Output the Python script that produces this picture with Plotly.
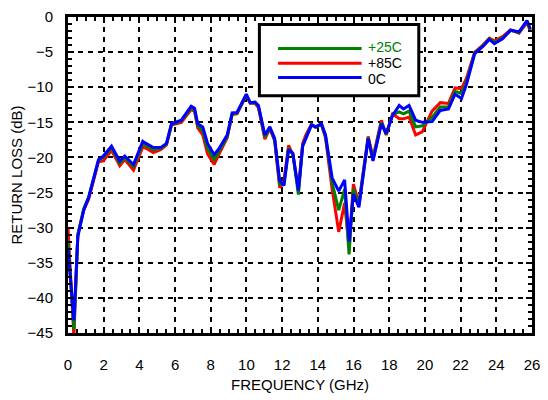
import plotly.graph_objects as go

# Frequency points (GHz)
freq = [0.00, 0.33, 0.55, 0.88, 1.16, 1.71, 1.98, 2.44, 2.90, 3.18, 3.67, 4.19, 4.37, 4.78,
        5.19, 5.52, 5.80, 6.35, 6.90, 7.09, 7.27, 7.55, 7.82, 8.19, 8.47, 8.92, 9.20, 9.47,
        9.99, 10.21, 10.48, 10.67, 11.03, 11.31, 11.58, 11.86, 12.10, 12.36, 12.60, 12.91,
        13.15, 13.33, 13.64, 13.88, 14.20, 14.43, 14.80, 15.17, 15.50, 15.75, 15.99, 16.30,
        16.82, 17.09, 17.56, 17.83, 18.19, 18.56, 18.80, 19.11, 19.48, 19.85, 20.40, 20.86,
        21.32, 21.69, 22.05, 22.33, 22.79, 23.25, 23.61, 23.89, 24.35, 24.80, 25.27, 25.72,
        25.90]

# Return loss (dB) at 0C
rl_0c = [-33.0, -43.2, -31.3, -27.5, -25.7, -20.3, -19.8, -18.4, -20.5, -19.8, -21.0, -17.7,
         -18.0, -18.6, -18.6, -18.0, -15.2, -14.7, -12.7, -13.0, -15.2, -15.65, -18.0, -19.6,
         -18.7, -16.8, -13.65, -13.6, -11.0, -12.2, -12.1, -12.6, -16.8, -15.65, -17.3, -23.3,
         -24.0, -18.9, -19.4, -24.7, -18.4, -17.3, -15.4, -15.65, -15.2, -16.8, -22.9, -24.8,
         -23.2, -32.0, -25.2, -27.1, -17.3, -20.5, -15.2, -16.6, -14.0, -12.6, -13.1, -12.6,
         -14.7, -15.0, -14.9, -13.3, -13.1, -11.0, -11.6, -9.6, -5.2, -4.2, -3.2, -3.8, -3.1,
         -1.9, -2.1, -0.5, -1.7]

# Return loss (dB) at +25C
rl_25c = [-32.0, -44.5, -31.0, -27.3, -25.6, -20.4, -20.0, -18.6, -20.8, -20.0, -21.3, -18.0,
          -18.3, -18.9, -18.7, -18.1, -15.3, -14.8, -12.9, -13.2, -15.5, -16.2, -18.7, -20.3,
          -19.1, -17.0, -13.8, -13.7, -11.1, -12.25, -12.2, -12.7, -17.1, -15.8, -17.5, -23.8,
          -23.7, -18.7, -19.5, -25.3, -18.3, -17.1, -15.3, -15.7, -15.3, -17.0, -23.6, -27.5,
          -24.5, -33.8, -24.5, -26.8, -17.2, -20.3, -15.0, -16.7, -13.9, -13.5, -13.8, -13.4,
          -15.65, -15.5, -14.3, -12.8, -12.8, -10.6, -10.9, -9.2, -5.1, -4.1, -3.1, -3.6, -3.0,
          -1.9, -2.2, -0.6, -1.8]

# Return loss (dB) at +85C
rl_85c = [-30.0, -45.5, -31.0, -27.5, -25.9, -20.6, -20.5, -19.0, -21.2, -20.3, -21.8, -18.5,
          -18.7, -19.3, -18.9, -18.2, -15.4, -15.0, -13.2, -13.4, -15.8, -16.8, -19.5, -21.0,
          -19.5, -17.2, -13.9, -13.8, -11.2, -12.3, -12.3, -12.9, -17.4, -15.9, -17.6, -24.3,
          -23.3, -18.3, -19.6, -24.6, -18.0, -16.8, -15.3, -15.7, -15.3, -17.2, -24.5, -30.6,
          -26.5, -32.8, -23.8, -26.5, -17.0, -20.0, -14.7, -16.8, -13.8, -14.5, -14.5, -14.25,
          -16.8, -16.35, -13.4, -12.2, -12.3, -10.1, -10.2, -8.7, -5.0, -4.0, -3.0, -3.4, -2.8,
          -1.8, -2.3, -0.8, -1.9]

x_ticks = list(range(0, 27, 2))
y_ticks = list(range(-45, 1, 5))

series = [
    ("+85C", rl_85c, "#ff0000"),
    ("+25C", rl_25c, "#008000"),
    ("0C", rl_0c, "#0000ff"),
]

fig = go.Figure()
for name, vals, color in series:
    fig.add_trace(go.Scatter(x=freq, y=vals, mode="lines", name=name,
                             line=dict(color=color, width=3), showlegend=False))

font_family = "Liberation Sans, Arial, sans-serif"

axis_common = dict(
    showline=True, linecolor="black", linewidth=3, mirror="allticks",
    ticks="inside", tickcolor="black", tickwidth=2, ticklen=6,
    showgrid=True, gridcolor="black", gridwidth=2, griddash="5px,5px",
    zeroline=False,
    tickfont=dict(family=font_family, size=15, color="black"),
)

fig.update_xaxes(
    range=[0, 26], tickvals=x_ticks,
    minor=dict(dtick=0.5, ticks="inside", ticklen=4, tickwidth=2, tickcolor="black", showgrid=False),
    title=dict(text="FREQUENCY (GHz)", font=dict(family=font_family, size=15, color="black"), standoff=8),
    ticklabelstandoff=16,
    **axis_common,
)
fig.update_yaxes(
    range=[-45, 0], tickvals=y_ticks,
    minor=dict(dtick=1, ticks="inside", ticklen=4, tickwidth=2, tickcolor="black", showgrid=False),
    title=dict(text="RETURN LOSS (dB)", font=dict(family=font_family, size=15, color="black"), standoff=2),
    ticklabelstandoff=9,
    **axis_common,
)

# Legend box drawn in paper coordinates
legend_x0, legend_x1 = 0.4125, 0.756
legend_y0, legend_y1 = 0.7506, 0.976
line_x0, line_x1 = 0.4528, 0.6328
text_x = 0.644
# (label, line colour, text colour, line y, text y)
legend_rows = [("+25C", "#008000", "#008000", 0.9006, 0.9036),
               ("+85C", "#ff0000", "black", 0.854, 0.854),
               ("0C", "#0000ff", "black", 0.8084, 0.8040)]

shapes = [dict(type="rect", xref="paper", yref="paper", x0=legend_x0, x1=legend_x1,
               y0=legend_y0, y1=legend_y1, line=dict(color="black", width=3),
               fillcolor="white", layer="above")]
annotations = []
for label, lcolor, tcolor, line_y, text_y in legend_rows:
    shapes.append(dict(type="line", xref="paper", yref="paper", x0=line_x0, x1=line_x1,
                       y0=line_y, y1=line_y, line=dict(color=lcolor, width=3), layer="above"))
    annotations.append(dict(xref="paper", yref="paper", x=text_x, y=text_y, text=label,
                            showarrow=False, xanchor="left", yanchor="middle", borderpad=0,
                            font=dict(family=font_family, size=14, color=tcolor)))

fig.update_layout(
    width=548, height=400,
    margin=dict(l=68, r=8, t=13, b=65),
    paper_bgcolor="white", plot_bgcolor="white",
    shapes=shapes, annotations=annotations,
    showlegend=False,
)

fig.write_html("out.html")
